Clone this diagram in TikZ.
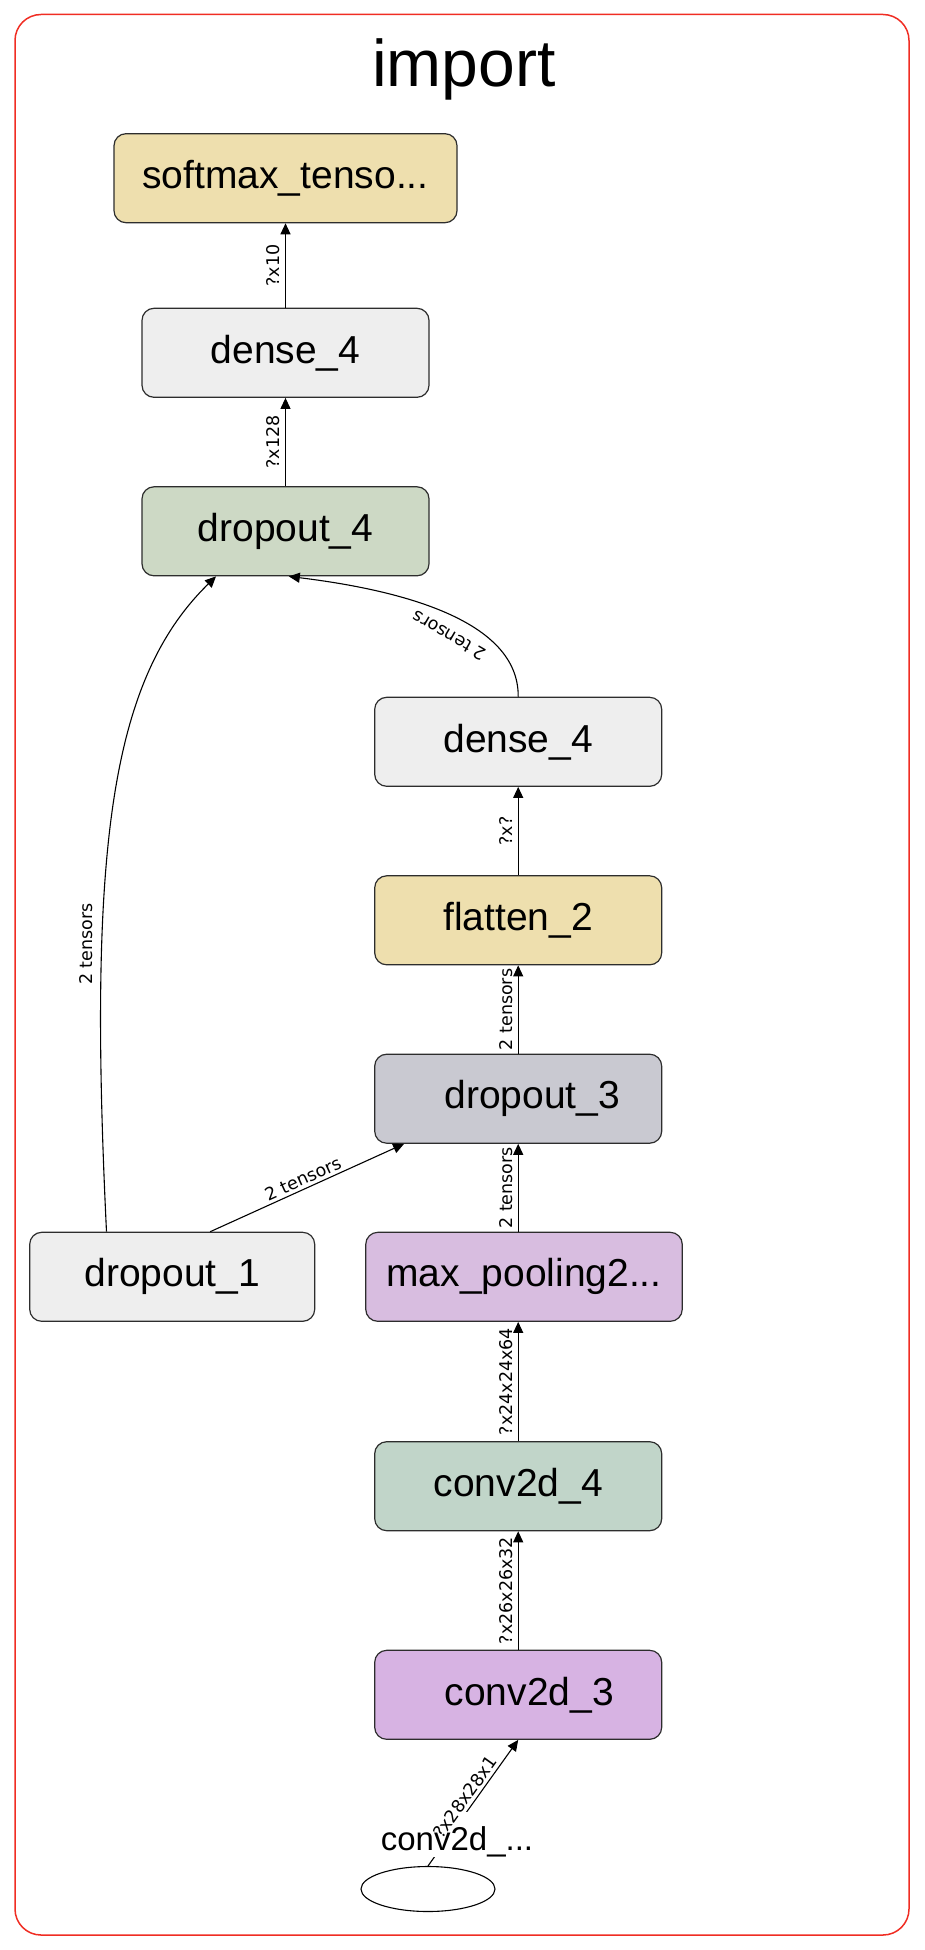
\documentclass[tikz,border=0pt]{standalone}
\usepackage{fontspec}
\setmainfont{Liberation Sans}
\newfontfamily\lblfont{DejaVu Sans}
\usetikzlibrary{arrows.meta,shapes.geometric,calc}
\definecolor{framered}{RGB}{240,45,35}
\definecolor{boxline}{RGB}{45,45,45}
\definecolor{cwheat}{HTML}{EEDFAE}
\definecolor{clight}{HTML}{EEEEEE}
\definecolor{csage}{HTML}{CDD9C5}
\definecolor{cmint}{HTML}{C1D5C9}
\definecolor{clav}{HTML}{C9C9D1}
\definecolor{cpurpa}{HTML}{D8BDE0}
\definecolor{cpurpb}{HTML}{D7B3E3}
\begin{document}
\begin{tikzpicture}[x=1pt,y=-1pt,
  layerbox/.style={draw=boxline, line width=1.2pt, rounded corners=12pt,
    minimum height=89pt, minimum width=287pt, inner sep=0pt,
    font=\fontsize{39}{44}\selectfont},
  edgeline/.style={draw=black, line width=1.1pt, -{Triangle[length=11pt,width=10pt]}},
  edgelbl/.style={font=\lblfont\fontsize{17.5}{20}\selectfont, inner sep=5pt},
  titlefont/.style={font=\fontsize{66}{72}\selectfont}
]
\useasboundingbox (0,0) rectangle (924,1950);
\draw[framered, line width=1.5pt, rounded corners=26pt] (15,14.5) rectangle (909,1935);
\node[titlefont, anchor=base] (title) at (464,87) {import};

% layer nodes
\node[layerbox, fill=cwheat, minimum width=343pt] (soft) at (285.5,178.2) {softmax\_tenso...};
\node[layerbox, fill=clight] (densea) at (285.5,352.8) {dense\_4};
\node[layerbox, fill=csage] (dropd) at (285.5,531.3) {dropout\_4};
\node[layerbox, fill=clight] (denseb) at (518.2,741.8) {dense\_4};
\node[layerbox, fill=cwheat] (flat) at (518.2,920.3) {flatten\_2};
\node[layerbox, fill=clav] (dropc) at (518.2,1098.7) {\hspace*{28pt}dropout\_3};
\node[layerbox, fill=clight, minimum width=285pt] (dropa) at (172.2,1276.8) {dropout\_1};
\node[layerbox, fill=cpurpa, minimum width=316.5pt] (maxp) at (524,1276.8) {max\_pooling2...};
\node[layerbox, fill=cmint] (convd) at (518.2,1486.2) {conv2d\_4};
\node[layerbox, fill=cpurpb] (convc) at (518.2,1694.8) {\hspace*{22pt}conv2d\_3};
\node[draw=black, line width=1.1pt, ellipse, minimum width=134pt, minimum height=45pt, inner sep=0pt] (inp) at (428,1889) {};

% straight edges
\draw[edgeline] (densea.north) -- (densea.north |- soft.south) node[edgelbl, midway, sloped, above] (l1) {?x10};
\draw[edgeline] (dropd.north) -- (dropd.north |- densea.south) node[edgelbl, midway, sloped, above] (l2) {?x128};
\draw[edgeline] (flat.north) -- (flat.north |- denseb.south) node[edgelbl, midway, sloped, above] (l3) {?x?};
\draw[edgeline] (dropc.north) -- (dropc.north |- flat.south) node[edgelbl, midway, sloped, above] (l4) {2 tensors};
\draw[edgeline] (maxp.north -| dropc.south) -- (dropc.south) node[edgelbl, midway, sloped, above] (l5) {2 tensors};
\draw[edgeline] (convd.north) -- (convd.north |- maxp.south) node[edgelbl, midway, sloped, above] (l6) {?x24x24x64};
\draw[edgeline] (convc.north) -- (convc.north |- convd.south) node[edgelbl, midway, sloped, above] (l7) {?x26x26x32};
\draw[edgeline] ([xshift=38pt]dropa.north) -- ([xshift=30pt]dropc.south west) node[edgelbl, inner sep=3pt, midway, sloped, above] (l8) {2 tensors};

% curved edges
\draw[edgeline] ([xshift=-65.7pt]dropa.north) .. controls (88,850) and (110,680) .. ([xshift=-69.5pt]dropd.south);
\node[edgelbl, inner sep=0pt, rotate=90] (l9) at (86,944) {2 tensors};
\draw[edgeline] (denseb.north) .. controls (519,620) and (400,590) .. ([xshift=3.3pt]dropd.south);
\node[edgelbl, inner sep=0pt, rotate=150] (l10) at (449,636) {2 tensors};

% input edge
\draw[edgeline] (inp.north) -- (convc.south);
\node[fill=white, inner sep=1pt, text height=37pt, text depth=6pt, anchor=base,
  font=\fontsize{33}{36}\selectfont] (inlbl) at (457,1850) {conv2d\_...};
\path (inp.north) -- (convc.south) node[edgelbl, inner sep=3pt, midway, sloped, above] (l11) {?x28x28x1};
\end{tikzpicture}
\end{document}
